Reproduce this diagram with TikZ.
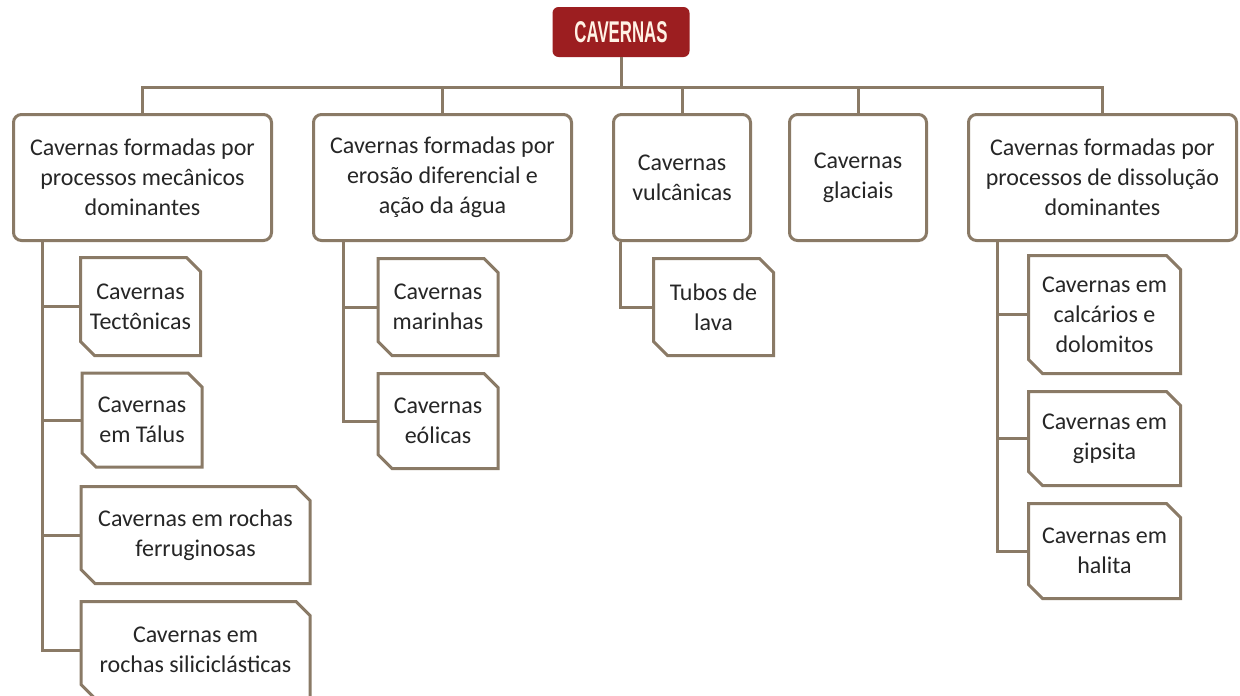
\documentclass[tikz,border=0pt]{standalone}
\usepackage{fontspec}
\setmainfont{Carlito}
\newfontfamily\capfont{Liberation Sans}
\usepackage{tikz}
\usetikzlibrary{calc,positioning,shapes.misc}
\definecolor{cavred}{HTML}{9C1E20}
\definecolor{linecol}{HTML}{8A7A66}
\definecolor{txtcol}{HTML}{262626}
\tikzset{
  line/.style={draw=linecol, line width=3pt},
  topbox/.style={fill=cavred, rounded corners=6pt, text=white!90!orange, inner sep=0pt,
    minimum width=137pt, minimum height=50pt, font=\capfont\bfseries\fontsize{30}{32}\selectfont},
  catbox/.style={draw=linecol, line width=3pt, rounded corners=8pt, fill=white, align=center,
    text=txtcol, inner sep=2pt, minimum height=126pt, font=\fontsize{24}{30}\selectfont},
  subbox/.style={draw=linecol, line width=3pt, fill=white, align=center, text=txtcol,
    chamfered rectangle, chamfered rectangle corners={north east,south west},
    chamfered rectangle xsep=7pt, chamfered rectangle ysep=7pt, inner sep=1pt,
    font=\fontsize{24}{30}\selectfont},
  smallsub/.style={subbox, minimum width=120pt},
  widesub/.style={subbox, minimum width=229pt}
}
\begin{document}
\begin{tikzpicture}[x=1pt, y=-1pt]
  \clip (0,0) rectangle (1240,696);
  \fill[white] (0,0) rectangle (1240,696);

  \node[topbox] (top) at (621,32) {\scalebox{0.56}[1]{CAVERNAS}};

  \node[catbox, minimum width=258pt] (cat1) at (142.5,177.5) {Cavernas formadas por\\processos mecânicos\\dominantes};
  \node[catbox, minimum width=258pt] (cat2) at (442.5,177.5) {Cavernas formadas por\\erosão diferencial e\\ação da água};
  \node[catbox, minimum width=137pt] (cat3) at (682,177.5) {Cavernas\\vulcânicas};
  \node[catbox, minimum width=137pt] (cat4) at (858,177.5) {Cavernas\\glaciais};
  \node[catbox, minimum width=268pt] (cat5) at (1102.5,177.5) {Cavernas formadas por\\processos de dissolução\\dominantes};

  % bus from the root to the five groups
  \coordinate (bus) at (621,87);
  \draw[line] (top.south) -- (bus);
  \draw[line] (cat1.north) |- (bus) -| (cat5.north);
  \foreach \n in {cat2,cat3,cat4}
    \draw[line] (\n.north) -- (\n.north |- bus);

  % sub-types
  \node[smallsub, minimum height=98pt] (tect) at (140.5,306.5) {Cavernas\\Tectônicas};
  \node[smallsub, minimum height=94pt] (talus) at (142,420) {Cavernas\\em Tálus};
  \node[widesub, minimum height=97pt] (ferr) at (195.5,535) {Cavernas em rochas\\ferruginosas};
  \node[widesub, minimum height=97pt] (silic) at (195.5,650) {Cavernas em\\rochas siliciclásticas};

  \node[smallsub, minimum height=97pt] (mar) at (438,307) {Cavernas\\marinhas};
  \node[smallsub, minimum height=95pt] (eol) at (438,421) {Cavernas\\eólicas};

  \node[smallsub, minimum height=97pt] (lava) at (713.5,307) {Tubos de\\lava};

  \node[subbox, minimum width=152pt, minimum height=118pt] (calc) at (1104.5,314.5) {Cavernas em\\calcários e\\dolomitos};
  \node[subbox, minimum width=152pt, minimum height=94pt] (gips) at (1104.5,438.5) {Cavernas em\\gipsita};
  \node[subbox, minimum width=152pt, minimum height=95pt] (hal) at (1104.5,551) {Cavernas em\\halita};

  % rails
  \coordinate (r1) at (42,242);
  \coordinate (r2) at (343,242);
  \coordinate (r3) at (620,242);
  \coordinate (r5) at (997,242);
  \draw[line] (r1) |- (silic.west);
  \foreach \s in {tect,talus,ferr}
    \draw[line] (r1 |- \s.west) -- (\s.west);
  \draw[line] (r2) |- (eol.west);
  \draw[line] (r2 |- mar.west) -- (mar.west);
  \draw[line] (r3) |- (lava.west);
  \draw[line] (r5) |- (hal.west);
  \foreach \s in {calc,gips}
    \draw[line] (r5 |- \s.west) -- (\s.west);
\end{tikzpicture}
\end{document}
